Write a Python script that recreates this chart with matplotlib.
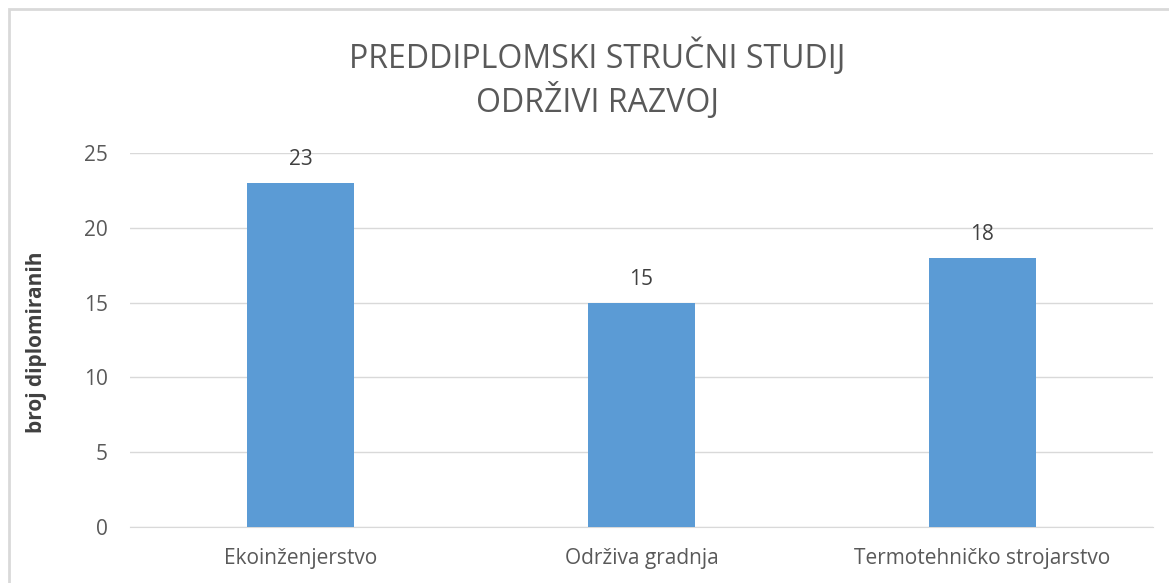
import matplotlib.pyplot as plt
from matplotlib.patches import Rectangle

# data
categories = ['Ekoinženjerstvo', 'Održiva gradnja', 'Termotehničko strojarstvo']
values = [23, 15, 18]
title = 'PREDDIPLOMSKI STRUČNI STUDIJ\nODRŽIVI RAZVOJ'
ylabel = 'broj diplomiranih'
yticks = [0, 5, 10, 15, 20, 25]

plt.rcParams['font.family'] = ['Open Sans', 'DejaVu Sans']

fig = plt.figure(figsize=(11.69, 5.83), dpi=100)
# chart border (left and top edges visible)
fig.patches.append(Rectangle((9 / 1169, -0.1), 1.2, 1 - 9 / 583 + 0.1,
                             transform=fig.transFigure, fill=False,
                             edgecolor='#D9D9D9', linewidth=2))

ax = fig.add_axes([130 / 1169, 1 - 527 / 583, (1153 - 130) / 1169, (527 - 153) / 583])
x = range(len(categories))
bars = ax.bar(x, values, width=0.315, color='#5B9BD5', zorder=3)

ax.set_ylim(0, 25)
ax.set_xlim(-0.5, len(categories) - 0.5)
ax.set_yticks(yticks)
ax.set_xticks(list(x))
ax.set_xticklabels(categories)
ax.grid(axis='y', color='#D9D9D9', linewidth=1, zorder=0)
for s in ax.spines.values():
    s.set_visible(False)
ax.spines['bottom'].set_visible(True)
ax.spines['bottom'].set_color('#D9D9D9')
ax.tick_params(length=0, labelsize=15, colors='#595959', pad=15)
ax.tick_params(axis='y', pad=16)

for b, v in zip(bars, values):
    ax.annotate(str(v), (b.get_x() + b.get_width() / 2, v), xytext=(0, 9),
                textcoords='offset points', ha='center', va='bottom',
                fontsize=15, color='#404040')

fig.text(37 / 1169, 1 - 342 / 583, ylabel, rotation=90, ha='center', va='center',
         fontsize=15, fontweight='bold', color='#404040')
fig.text(597 / 1169, 1 - 79 / 583, title, ha='center', va='center',
         fontsize=23, color='#595959', linespacing=1.25)

fig.savefig('out.png', dpi=100)
